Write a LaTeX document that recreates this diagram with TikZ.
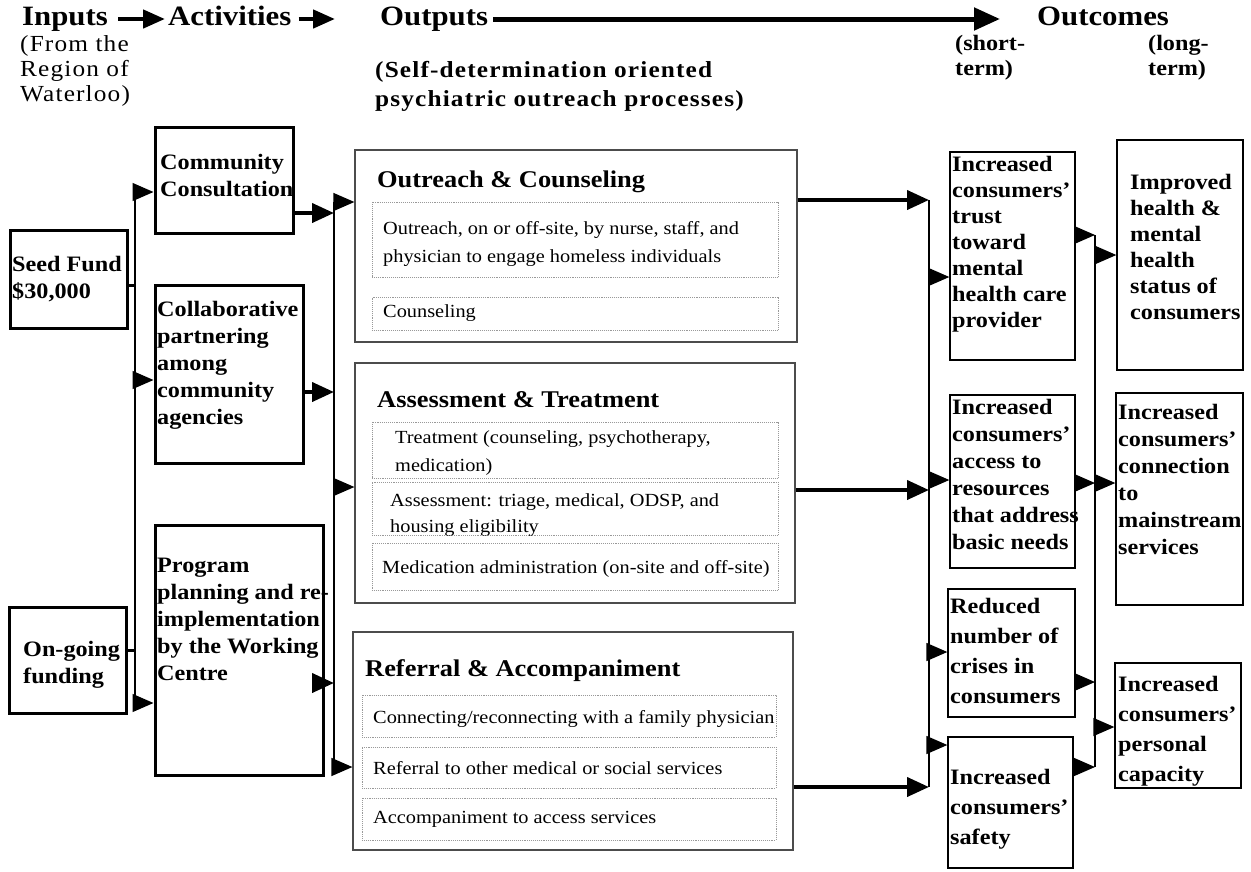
\documentclass[tikz,border=0pt]{standalone}
\usepackage{fontspec}
\setmainfont{Liberation Serif}[FakeStretch=1.1]
\newfontfamily\spacedfont{Liberation Serif}[FakeStretch=1.1,LetterSpace=5]
\usetikzlibrary{arrows.meta, fit}

\begin{document}
\begin{tikzpicture}
        [ x=1pt, y=-1pt
        , hd/.style={font=\fontsize{28}{30}\selectfont\bfseries, anchor=west, inner xsep=3pt, inner ysep=0pt, text height=19pt, text depth=6pt}
        , sub/.style={font=\spacedfont\fontsize{23}{25}\selectfont, anchor=north west, align=left, inner sep=0pt}
        , lab/.style={font=\fontsize{22}{25}\selectfont\bfseries, anchor=north west, align=left, inner sep=0pt}
        , boxtxt/.style={font=\fontsize{22}{27}\selectfont\bfseries, anchor=north west, align=left, inner sep=0pt}
        , boxtxtw/.style={boxtxt, font=\fontsize{22}{30}\selectfont\bfseries}
        , ttl/.style={font=\fontsize{24}{26}\selectfont\bfseries, anchor=north west, inner sep=0pt}
        , body/.style={font=\fontsize{18.5}{28}\selectfont, anchor=north west, align=left, inner sep=0pt}
        , thbox/.style={draw, line width=3pt, inner sep=0pt}
        , ltbox/.style={draw, line width=1.3pt, inner sep=0pt}
        , outbox/.style={draw=gray!60!black, line width=1.2pt, inner sep=0pt}
        , subbox/.style={draw=gray!80, densely dotted, line width=0.9pt, inner sep=0pt}
        , bus/.style={line width=1.3pt}
        , feed/.style={line width=3pt}
        , tip/.style={-{Triangle[length=21pt,width=18pt]}, line width=1.3pt}
        , thk/.style={-{Triangle[length=22pt,width=19pt]}, line width=4pt}
        , hdarr/.style={-{Triangle[length=22pt,width=18pt]}, line width=4.5pt}
        ]
        \useasboundingbox (0,0) rectangle (1251,871);

        % headers
        \node (inp) [hd] at (19,19) {Inputs};
        \node (act) [hd] at (165,19) {Activities};
        \node (outp) [hd] at (377,19) {Outputs};
        \node (outc) [hd] at (1034,19) {Outcomes};
        \draw[hdarr, shorten <=7pt] (inp) -- (act);
        \draw[hdarr, shorten <=4pt, shorten >=42pt] (act) -- (outp);
        \draw[hdarr, line width=5pt, -{Triangle[length=26pt,width=22pt]}, shorten <=2pt, shorten >=34pt] (outp) -- (outc);

        \node (inpsub) [sub] at (20,35) {(From the\\Region of\\Waterloo)};
        \node (outpsub) [sub, font=\spacedfont\fontsize{23}{29}\selectfont\bfseries] at (375,61) {(Self-determination oriented\\psychiatric outreach processes)};
        \node (short) [lab] at (955,35) {(short-\\term)};
        \node (long) [lab] at (1148,35) {(long-\\term)};

        % inputs
        \node (sft) [boxtxt] at (12,256) {Seed Fund\\\$30,000};
        \node (sf) [thbox, fit={(10,230)(127,328)}] {};
        \node (ogt) [boxtxt] at (23,641) {On-going\\funding};
        \node (og) [thbox, fit={(9,607)(126,713)}] {};

        % activities
        \node (cct) [boxtxt] at (160,154) {Community\\Consultation};
        \node (cc) [thbox, fit={(155,127)(293,233)}] {};
        \node (cot) [boxtxt] at (157,301) {Collaborative\\partnering\\among\\community\\agencies};
        \node (co) [thbox, fit={(155,285)(303,463)}] {};
        \node (prt) [boxtxt] at (157,558) {Program\\planning and re-\\implementation\\by the Working\\Centre};
        \node (pr) [thbox, fit={(155,525)(323,775)}] {};

        % outputs
        \node (obt) [ttl] at (377,171) {Outreach \& Counseling};
        \node (o1t) [body] at (383,221) {Outreach, on or off-site, by nurse, staff, and\\physician to engage homeless individuals};
        \node (o1) [subbox, fit={(372,202)(778,277)}] {};
        \node (o2t) [body] at (383,304) {Counseling};
        \node (o2) [subbox, fit={(372,297)(778,330)}] {};
        \node (ob) [outbox, fit={(355,150)(797,342)}] {};

        \node (abt) [ttl] at (377,391) {Assessment \& Treatment};
        \node (a1t) [body] at (395,430) {Treatment (counseling, psychotherapy,\\medication)};
        \node (a1) [subbox, fit={(372,422)(778,478)}] {};
        \node (a2t) [body, font=\fontsize{18.5}{26}\selectfont] at (390,493) {Assessment: triage, medical, ODSP, and\\housing eligibility};
        \node (a2) [subbox, fit={(372,482)(778,535)}] {};
        \node (a3t) [body] at (382,560) {Medication administration (on-site and off-site)};
        \node (a3) [subbox, fit={(372,543)(778,590)}] {};
        \node (ab) [outbox, fit={(355,363)(795,603)}] {};

        \node (rbt) [ttl] at (365,659) {Referral \& Accompaniment};
        \node (r1t) [body] at (373,710) {Connecting/reconnecting with a family physician};
        \node (r1) [subbox, fit={(362,695)(776,737)}] {};
        \node (r2t) [body] at (373,761) {Referral to other medical or social services};
        \node (r2) [subbox, fit={(362,747)(776,788)}] {};
        \node (r3t) [body] at (373,811) {Accompaniment to access services};
        \node (r3) [subbox, fit={(362,798)(776,840)}] {};
        \node (rb) [outbox, fit={(353,632)(793,850)}] {};

        % short-term outcomes
        \node (trt) [boxtxt, font=\fontsize{22}{26}\selectfont\bfseries] at (952,156) {Increased\\consumers'\\trust\\toward\\mental\\health care\\provider};
        \node (tr) [ltbox, fit={(950,152)(1075,360)}] {};
        \node (act2) [boxtxt] at (952,399) {Increased\\consumers'\\access to\\resources\\that address\\basic needs};
        \node (ac) [ltbox, fit={(950,395)(1075,568)}] {};
        \node (crt) [boxtxtw] at (950,598) {Reduced\\number of\\crises in\\consumers};
        \node (cr) [ltbox, fit={(948,589)(1075,717)}] {};
        \node (sat) [boxtxtw] at (950,769) {Increased\\consumers'\\safety};
        \node (sa) [ltbox, fit={(948,737)(1073,868)}] {};

        % long-term outcomes
        \node (imt) [boxtxt, font=\fontsize{22}{26}\selectfont\bfseries] at (1130,174) {Improved\\health \&\\mental\\health\\status of\\consumers};
        \node (im) [ltbox, fit={(1117,140)(1243,370)}] {};
        \node (cnt) [boxtxt] at (1118,404) {Increased\\consumers'\\connection\\to\\mainstream\\services};
        \node (cn) [ltbox, fit={(1116,393)(1243,605)}] {};
        \node (pct) [boxtxtw] at (1118,676) {Increased\\consumers'\\personal\\capacity};
        \node (pc) [ltbox, fit={(1115,663)(1241,788)}] {};

        % inputs -> activities
        \coordinate (b1) at (135,192);
        \coordinate (b1e) at (135,703);
        \coordinate (b1s) at (135,285);
        \coordinate (b1o) at (135,650);
        \coordinate (b1c) at (135,380);
        \draw[bus] (b1) -- (b1e);
        \draw[feed] (b1s -| sf.east) -- (b1s);
        \draw[feed] (b1o -| og.east) -- (b1o);
        \draw[tip] (b1) -- (b1 -| cc.west);
        \draw[tip] (b1c) -- (b1c -| co.west);
        \draw[tip] (b1e) -- (b1e -| pr.west);

        % activities -> outputs
        \coordinate (b2) at (334,202);
        \coordinate (b2e) at (334,767);
        \coordinate (b2c) at (334,213);
        \coordinate (b2o) at (334,392);
        \coordinate (b2p) at (334,683);
        \coordinate (b2a) at (334,487);
        \draw[bus] (b2) -- (b2e);
        \draw[thk] (b2c -| cc.east) -- (b2c);
        \draw[thk] (b2o -| co.east) -- (b2o);
        \draw[thk] (b2p -| pr.east) -- (b2p);
        \draw[tip] (b2) -- (b2 -| ob.west);
        \draw[tip] (b2a) -- (b2a -| ab.west);
        \draw[tip] (b2e) -- (b2e -| rb.west);

        % outputs -> short-term
        \coordinate (b3) at (929,200);
        \coordinate (b3e) at (929,787);
        \coordinate (b3a) at (929,490);
        \coordinate (b3t) at (929,277);
        \coordinate (b3c) at (929,480);
        \coordinate (b3r) at (929,652);
        \coordinate (b3s) at (929,745);
        \draw[bus] (b3) -- (b3e);
        \draw[thk] (b3 -| ob.east) -- (b3);
        \draw[thk] (b3a -| ab.east) -- (b3a);
        \draw[thk] (b3e -| rb.east) -- (b3e);
        \draw[tip] (b3t) -- (b3t -| tr.west);
        \draw[tip] (b3c) -- (b3c -| ac.west);
        \draw[tip] (b3r) -- (b3r -| cr.west);
        \draw[tip] (b3s) -- (b3s -| sa.west);

        % short-term -> long-term
        \coordinate (b4) at (1095,235);
        \coordinate (b4e) at (1095,767);
        \coordinate (b4c) at (1095,483);
        \coordinate (b4r) at (1095,682);
        \coordinate (b4i) at (1095,255);
        \coordinate (b4p) at (1095,727);
        \draw[bus] (b4) -- (b4e);
        \draw[tip] (b4 -| tr.east) -- (b4);
        \draw[tip] (b4c -| ac.east) -- (b4c);
        \draw[tip] (b4r -| cr.east) -- (b4r);
        \draw[tip] (b4e -| sa.east) -- (b4e);
        \draw[tip] (b4i) -- (b4i -| im.west);
        \draw[tip] (b4c) -- (b4c -| cn.west);
        \draw[tip] (b4p) -- (b4p -| pc.west);
    \end{tikzpicture}
\end{document}
